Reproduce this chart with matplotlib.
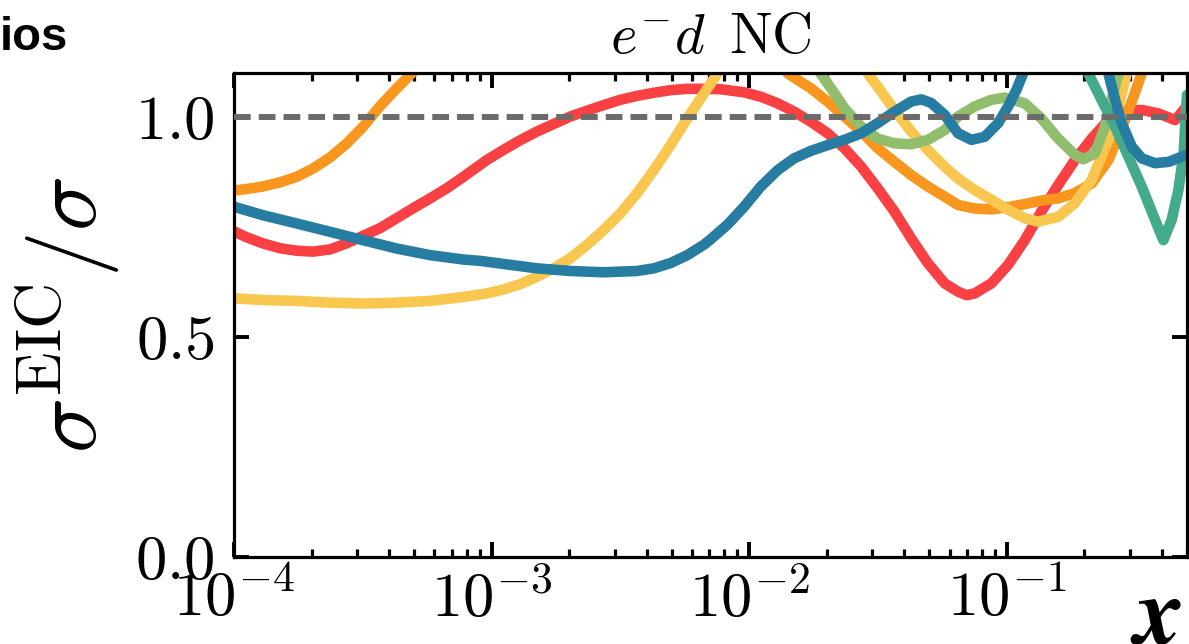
import math

import matplotlib
matplotlib.use("Agg")
import matplotlib.pyplot as plt
from matplotlib.ticker import FixedLocator, FuncFormatter, LogLocator, NullFormatter

plt.rcParams["mathtext.fontset"] = "cm"
plt.rcParams["font.family"] = "serif"
plt.rcParams["font.serif"] = ["cmr10", "DejaVu Serif"]
plt.rcParams["axes.formatter.use_mathtext"] = True

# sigma^EIC / sigma; values above 1.1 sit outside the frame
red_x = [1e-4, 1.115e-4, 1.29e-4, 1.5e-4, 1.75e-4, 2.03e-4, 2.36e-4, 2.74e-4, 3.17e-4,
         3.68e-4, 4.28e-4, 4.97e-4, 5.77e-4, 6.7e-4, 7.77e-4, 9.57e-4, 1.11e-3,
         1.29e-3, 1.5e-3, 1.74e-3, 2.02e-3, 2.34e-3, 2.72e-3, 3.16e-3, 3.67e-3,
         4.26e-3, 4.95e-3, 5.75e-3, 6.68e-3, 7.75e-3, 9.55e-3, 1.109e-2, 1.288e-2,
         1.494e-2, 1.735e-2, 2.014e-2, 2.34e-2, 2.72e-2, 3.15e-2, 3.66e-2, 4.25e-2,
         4.93e-2, 5.73e-2, 6.46e-2, 6.97e-2, 7.5e-2, 8.71e-2, 0.1011, 0.1173, 0.136,
         0.158, 0.1836, 0.2133, 0.2477, 0.287, 0.3335, 0.3873, 0.4498, 0.499]
red_y = [0.740, 0.727, 0.713, 0.702, 0.696, 0.694, 0.699, 0.713, 0.730,
         0.747, 0.770, 0.793, 0.815, 0.838, 0.864, 0.902, 0.925,
         0.947, 0.967, 0.984, 1.001, 1.014, 1.027, 1.039, 1.048,
         1.055, 1.061, 1.064, 1.064, 1.063, 1.056, 1.046, 1.031,
         1.012, 0.989, 0.963, 0.929, 0.887, 0.838, 0.785, 0.724,
         0.668, 0.622, 0.603, 0.595, 0.599, 0.622, 0.664, 0.720, 0.785,
         0.845, 0.902, 0.951, 0.993, 1.014, 1.016, 1.008, 0.993, 1.024]

orange_x = [1e-4, 1.115e-4, 1.29e-4, 1.5e-4, 1.75e-4, 2.03e-4, 2.36e-4, 2.74e-4,
            3.17e-4, 3.68e-4, 4.28e-4, 4.97e-4, 7e-4, 2e-3, 8e-3, 1.2e-2, 1.41e-2,
            1.735e-2, 2.014e-2, 2.34e-2, 2.72e-2, 3.15e-2, 3.66e-2, 4.25e-2, 4.93e-2,
            5.73e-2, 6.46e-2, 7.5e-2, 8.71e-2, 0.1011, 0.1173, 0.136, 0.158, 0.1836,
            0.2133, 0.2477, 0.287, 0.31, 0.3335, 0.37]
orange_y = [0.833, 0.836, 0.842, 0.851, 0.864, 0.883, 0.908, 0.940,
            0.978, 1.024, 1.065, 1.103, 1.25, 1.5, 1.4, 1.2, 1.099,
            1.065, 1.035, 1.001, 0.967, 0.929, 0.898, 0.868, 0.842,
            0.819, 0.800, 0.792, 0.790, 0.795, 0.802, 0.810, 0.815, 0.827,
            0.849, 0.902, 0.993, 1.046, 1.099, 1.25]

yellow_x = [1e-4, 1.29e-4, 1.75e-4, 2.36e-4, 3.17e-4, 4.28e-4, 5.77e-4, 7.77e-4,
            9.57e-4, 1.11e-3, 1.29e-3, 1.5e-3, 1.74e-3, 2.02e-3, 2.34e-3, 2.72e-3,
            3.16e-3, 3.67e-3, 4.26e-3, 4.95e-3, 5.75e-3, 6.68e-3, 7.52e-3, 1e-2,
            2e-2, 2.88e-2, 3.15e-2, 3.66e-2, 4.25e-2, 4.93e-2, 5.73e-2, 6.46e-2,
            7.5e-2, 8.71e-2, 0.1011, 0.1173, 0.132, 0.158, 0.1836, 0.2133, 0.2477,
            0.271, 0.292, 0.32]
yellow_y = [0.588, 0.584, 0.582, 0.578, 0.576, 0.578, 0.582, 0.591,
            0.599, 0.608, 0.620, 0.637, 0.656, 0.679, 0.709, 0.743,
            0.781, 0.827, 0.879, 0.936, 0.997, 1.054, 1.099, 1.3,
            1.3, 1.099, 1.069, 1.016, 0.967, 0.925, 0.887, 0.860,
            0.834, 0.812, 0.789, 0.770, 0.762, 0.773, 0.804, 0.857, 0.948,
            1.024, 1.099, 1.25]

green_x = [1e-2, 1.5e-2, 1.89e-2, 2.14e-2, 2.34e-2, 2.72e-2, 3.15e-2, 3.66e-2,
           4.25e-2, 4.93e-2, 5.73e-2, 6.46e-2, 7.5e-2, 8.71e-2, 0.098, 0.1173,
           0.136, 0.158, 0.1836, 0.1977, 0.2197, 0.2404, 0.255, 0.271, 0.3]
green_y = [1.35, 1.2, 1.099, 1.054, 1.020, 0.978, 0.951, 0.940,
           0.938, 0.948, 0.970, 1.001, 1.024, 1.039, 1.044, 1.031,
           0.997, 0.951, 0.914, 0.904, 0.917, 0.978, 1.039, 1.099, 1.25]

teal_x = [0.18, 0.207, 0.233, 0.263, 0.296, 0.3335, 0.376, 0.405, 0.436, 0.463,
          0.485, 0.5]
teal_y = [1.3, 1.099, 1.039, 0.978, 0.910, 0.842, 0.766, 0.720, 0.766, 0.834,
          0.917, 1.05]

blue_x = [1e-4, 1.29e-4, 1.75e-4, 2.36e-4, 3.17e-4, 4.28e-4, 5.77e-4, 7.77e-4,
          9.02e-4, 1.11e-3, 1.5e-3, 2.02e-3, 2.72e-3, 3.67e-3, 4.26e-3, 4.95e-3,
          5.75e-3, 6.68e-3, 7.08e-3, 7.75e-3, 8.22e-3, 9.55e-3, 1.109e-2, 1.288e-2,
          1.494e-2, 1.735e-2, 2.014e-2, 2.34e-2, 2.72e-2, 3.15e-2, 3.66e-2, 4.25e-2,
          4.65e-2, 5.08e-2, 5.73e-2, 6.46e-2, 7.28e-2, 8.2e-2, 9.25e-2, 0.1011,
          0.109, 0.1156, 0.14, 0.2, 0.2477, 0.263, 0.279, 0.305, 0.3335, 0.376,
          0.424, 0.499]
blue_y = [0.796, 0.777, 0.758, 0.739, 0.720, 0.701, 0.686, 0.676,
          0.673, 0.666, 0.656, 0.650, 0.647, 0.650, 0.656, 0.668,
          0.686, 0.710, 0.722, 0.742, 0.755, 0.796, 0.842, 0.879,
          0.906, 0.923, 0.936, 0.948, 0.963, 0.986, 1.012, 1.035,
          1.040, 1.032, 1.005, 0.963, 0.948, 0.955, 0.986, 1.024,
          1.062, 1.099, 1.3, 1.3, 1.099, 1.039, 0.986, 0.933, 0.906, 0.895,
          0.898, 0.914]

series = [
    (red_x, red_y, "#F94144"),
    (orange_x, orange_y, "#F8961E"),
    (yellow_x, yellow_y, "#F9C74F"),
    (green_x, green_y, "#90BE6D"),
    (teal_x, teal_y, "#43AA8B"),
    (blue_x, blue_y, "#277DA1"),
]

x_major = [1e-4, 1e-3, 1e-2, 1e-1]
y_major = [0.0, 0.5, 1.0]

fig = plt.figure(figsize=(11.89, 6.44), dpi=100)
ax = fig.add_axes([0.1968, 0.1351, 0.8015, 0.7516])

for xs, ys, c in series:
    ax.plot(xs, ys, color=c, lw=7.6, solid_joinstyle="round", solid_capstyle="round")

ref, = ax.plot([1e-4, 0.5], [1.0, 1.0], color="#6b6b6b", lw=4.3, zorder=5)
ref.set_dashes((2.8, 1.35))

ax.set_xscale("log")
ax.set_xlim(1e-4, 0.5)
ax.set_ylim(0.0, 1.1)

ax.xaxis.set_major_locator(FixedLocator(x_major))
ax.xaxis.set_minor_locator(LogLocator(base=10, subs=range(2, 10), numticks=20))
ax.xaxis.set_minor_formatter(NullFormatter())
ax.xaxis.set_major_formatter(FuncFormatter(lambda v, p: r"$10^{%d}$" % round(math.log10(v))))
ax.yaxis.set_major_locator(FixedLocator(y_major))
ax.yaxis.set_major_formatter(FuncFormatter(lambda v, p: r"$%.1f$" % v))

ax.tick_params(which="both", direction="in", top=True, right=True)
ax.tick_params(which="major", length=10.8, width=2.8, labelsize=45)
ax.tick_params(which="minor", length=5.8, width=2.3)
ax.tick_params(axis="x", which="major", pad=9)
ax.tick_params(axis="y", which="major", pad=14)
for s in ax.spines.values():
    s.set_linewidth(2.3)

ax.set_title(r"$e^{-}d\ \,\mathrm{NC}$", fontsize=41, pad=14.4)
ax.set_ylabel(r"$\sigma^{\mathrm{EIC}}/\sigma$", fontsize=66)
ax.yaxis.set_label_coords(-0.116, 0.5)
ax.set_xlabel(r"$\boldsymbol{x}$", fontsize=70, loc="right")
ax.xaxis.set_label_coords(0.995, -0.040)

fig.text(0.0, 1 - 50 / 644, "ios", ha="left", va="baseline", fontsize=34,
         fontweight="bold", family="Liberation Sans")

fig.savefig("out.png", dpi=100)
